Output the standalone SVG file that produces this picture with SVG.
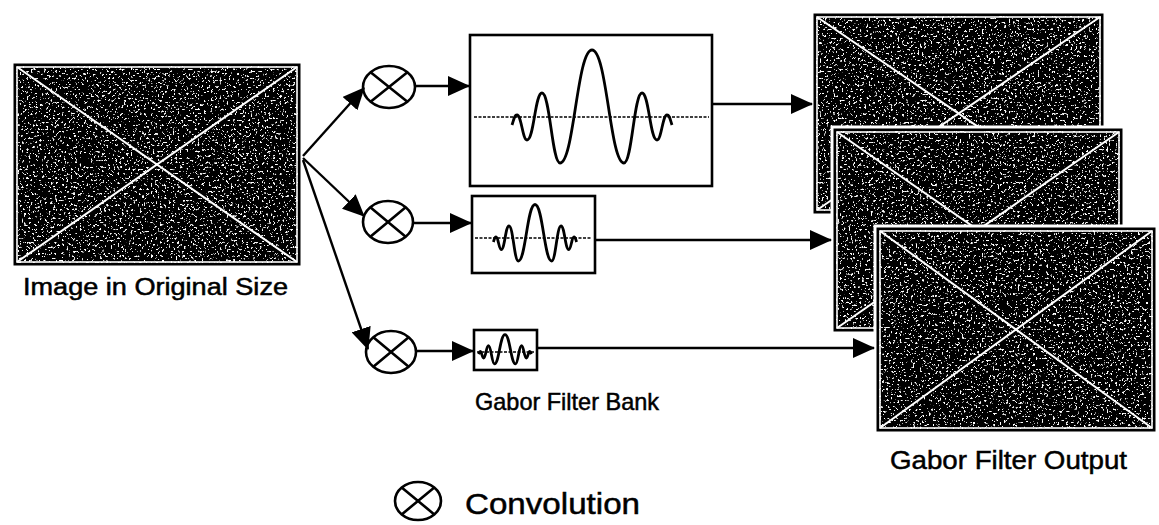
<svg xmlns="http://www.w3.org/2000/svg" width="1159" height="525" viewBox="0 0 1159 525">
<style>
.bg{fill:#fff}
.frame{fill:#000;stroke:#fff;stroke-width:3}
.inner{fill:none;stroke:#fff;stroke-width:1.6}
.xl{stroke:#fff;stroke-width:2;fill:none}
.conv{fill:#fff;stroke:#000;stroke-width:2.6}
.convx{stroke:#000;stroke-width:2.6;fill:none}
.fbox{fill:#fff;stroke:#000;stroke-width:2.6}
.base{stroke:#000;stroke-width:1.3;stroke-dasharray:3 1.5;fill:none}
.wave{fill:none;stroke:#000;stroke-width:2.8;stroke-linejoin:round}
.edge{fill:none;stroke:#000;stroke-width:2.4}
.lbl{font-family:"Liberation Sans",Arial,sans-serif;fill:#000;stroke:#000;stroke-width:0.5}
</style>
<defs>
  <filter id="speck" filterUnits="objectBoundingBox" x="0" y="0" width="1" height="1">
    <feTurbulence type="fractalNoise" baseFrequency="0.45" numOctaves="2" seed="5" result="n"/>
    <feColorMatrix in="n" type="matrix" values="0 0 0 0 1  0 0 0 0 1  0 0 0 0 1  12 0 0 0 -7.5" result="w"/>
    <feFlood flood-color="#000" result="b"/>
    <feMerge><feMergeNode in="b"/><feMergeNode in="w"/></feMerge>
  </filter>
  <marker id="ah" viewBox="0 0 22 20" refX="21" refY="10" markerWidth="22" markerHeight="20" markerUnits="userSpaceOnUse" orient="auto">
    <path d="M0,0 L22,10 L0,20 Z" fill="#000"/>
  </marker>
  <path id="gabor" style="vector-effect:non-scaling-stroke" d="M-80,8 C-78,2 -77.5,-2 -75,-2 C-70.5,-2 -69.5,23 -65,23 C-58,23 -57,-24 -50,-24 C-42,-24 -40,46 -32,46 C-18,46 -15,-67 0,-67 C15,-67 18,46 32,46 C40,46 42,-24 50,-24 C57,-24 58,23 65,23 C69.5,23 70.5,-2 75,-2 C77.5,-2 78,2 80,8"/>
</defs>
<rect class="bg" x="0" y="0" width="1159" height="525"/>

<g id="input-image">
  <rect class="frame" x="12" y="62" width="290" height="205"/>
  <rect x="16" y="66" width="282" height="197" filter="url(#speck)"/>
  <rect class="inner" x="17" y="67" width="280" height="195"/>
  <path class="xl" d="M17,67 L297,262 M297,67 L17,262"/>
  <text class="lbl" x="23" y="295" font-size="23" textLength="265" lengthAdjust="spacingAndGlyphs">Image in Original Size</text>
</g>

<g id="conv1">
  <ellipse class="conv" cx="389" cy="87" rx="26" ry="21"/>
  <path class="convx" d="M370.6,72.2 L407.4,101.8 M407.4,72.2 L370.6,101.8"/>
</g>
<g id="conv2">
  <ellipse class="conv" cx="388" cy="222" rx="25" ry="21"/>
  <path class="convx" d="M370.3,207.2 L405.7,236.8 M405.7,207.2 L370.3,236.8"/>
</g>
<g id="conv3">
  <ellipse class="conv" cx="391" cy="352" rx="25" ry="21"/>
  <path class="convx" d="M373.3,337.2 L408.7,366.8 M408.7,337.2 L373.3,366.8"/>
</g>

<g id="filter1">
  <rect class="fbox" x="470" y="35" width="242" height="151"/>
  <line class="base" x1="474" y1="117" x2="709" y2="117"/>
  <use href="#gabor" class="wave" transform="translate(592,117)"/>
</g>
<g id="filter2">
  <rect class="fbox" x="472" y="196" width="123" height="77"/>
  <line class="base" x1="475" y1="238" x2="592" y2="238"/>
  <use href="#gabor" class="wave" transform="translate(535,238) scale(0.52,0.5)"/>
</g>
<g id="filter3">
  <rect class="fbox" x="474" y="330" width="63" height="40"/>
  <line class="base" x1="477" y1="352" x2="534" y2="352"/>
  <use href="#gabor" class="wave" transform="translate(505,352) scale(0.33,0.26)"/>
</g>
<text class="lbl" x="475" y="410" font-size="24" textLength="184" lengthAdjust="spacingAndGlyphs">Gabor Filter Bank</text>

<g id="output1">
  <rect class="frame" x="812" y="12" width="293" height="203"/>
  <rect x="816" y="16" width="285" height="195" filter="url(#speck)"/>
  <rect class="inner" x="817" y="17" width="283" height="193"/>
  <path class="xl" d="M817,17 L1100,210 M1100,17 L817,210"/>
</g>
<g id="output2">
  <rect class="frame" x="832" y="127" width="292" height="206"/>
  <rect x="836" y="131" width="284" height="198" filter="url(#speck)"/>
  <rect class="inner" x="837" y="132" width="282" height="196"/>
  <path class="xl" d="M837,132 L1119,328 M1119,132 L837,328"/>
</g>
<g id="output3">
  <rect class="frame" x="875" y="226" width="282" height="207"/>
  <rect x="879" y="230" width="274" height="199" filter="url(#speck)"/>
  <rect class="inner" x="880" y="231" width="272" height="197"/>
  <path class="xl" d="M880,231 L1152,428 M1152,231 L880,428"/>
  <text class="lbl" x="890" y="469" font-size="26" textLength="237" lengthAdjust="spacingAndGlyphs">Gabor Filter Output</text>
</g>

<g id="connectors">
  <line class="edge" x1="303" y1="156" x2="364" y2="88" marker-end="url(#ah)"/>
  <line class="edge" x1="303" y1="158" x2="364" y2="216" marker-end="url(#ah)"/>
  <line class="edge" x1="303" y1="160" x2="368" y2="349" marker-end="url(#ah)"/>
  <line class="edge" x1="416" y1="86" x2="469" y2="86" marker-end="url(#ah)"/>
  <line class="edge" x1="414" y1="223" x2="471" y2="223" marker-end="url(#ah)"/>
  <line class="edge" x1="417" y1="351" x2="473" y2="351" marker-end="url(#ah)"/>
  <line class="edge" x1="712" y1="104" x2="812" y2="104" marker-end="url(#ah)"/>
  <line class="edge" x1="595" y1="240" x2="831" y2="240" marker-end="url(#ah)"/>
  <line class="edge" x1="537" y1="348" x2="874" y2="348" marker-end="url(#ah)"/>
</g>

<g id="legend">
  <ellipse class="conv" cx="418" cy="501" rx="23" ry="19"/>
  <path class="convx" d="M401.7,487.6 L434.3,514.4 M434.3,487.6 L401.7,514.4"/>
  <text class="lbl" x="465" y="514" font-size="30" textLength="175" lengthAdjust="spacingAndGlyphs">Convolution</text>
</g>
</svg>
